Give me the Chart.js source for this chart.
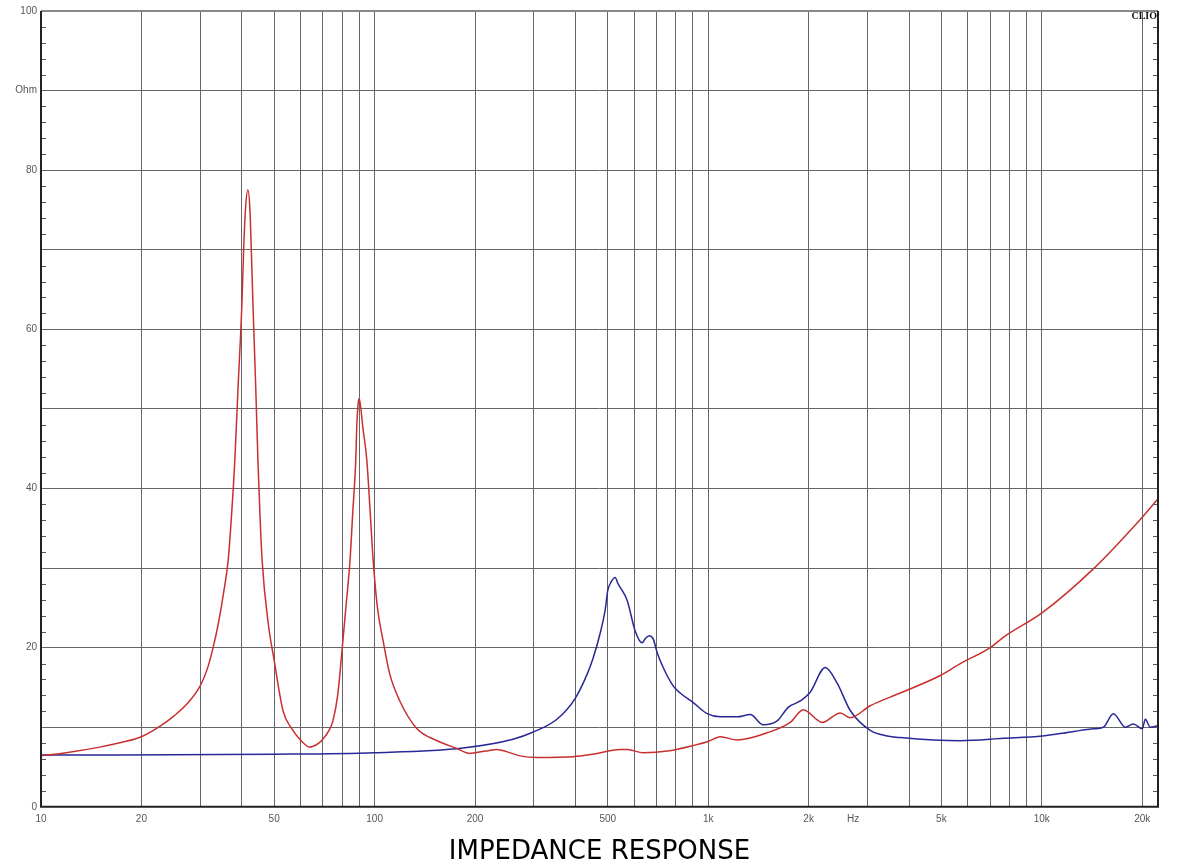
<!DOCTYPE html>
<html>
<head>
<meta charset="utf-8">
<script src="https://cdn.jsdelivr.net/npm/chart.js@4.4.1/dist/chart.umd.min.js"></script>
<style>
  html, body { margin: 0; padding: 0; background: #fff; }
  #wrap { width: 1178px; height: 868px; }
</style>
</head>
<body>
<div id="wrap"><canvas id="impChart" width="1178" height="868"></canvas></div>
<script>
// red curve
const redFreq = [10, 11.9, 15, 17.5, 20, 22.7, 25, 27.5, 30, 31.5, 32.8, 34, 35.3, 36.4, 37.3, 38.1, 39, 40, 40.5, 41, 41.7, 42.3, 42.7, 43.2, 44, 44.7, 45.3, 46, 48, 50, 53.2, 56.5, 60.2, 62, 63.6, 65.5, 68, 70, 73, 75, 77.5, 80, 82, 84.4, 86, 87.8, 88.4, 89.2, 89.9, 90.8, 92.2, 94.8, 97, 99, 102, 106, 111, 119, 134, 154, 177, 193, 200, 215, 233, 250, 273, 307, 394, 450, 545, 572, 639, 754, 902, 1000, 1087, 1222, 1503, 1762, 1927, 2197, 2488, 2666, 3060, 3765, 4963, 5697, 7009, 7665, 10035, 14270, 20010, 22300];
const redOhm  = [6.4, 6.8, 7.5, 8.1, 8.8, 10.1, 11.4, 13.0, 15.2, 17.3, 20, 23, 27, 31, 37, 43.5, 53, 63, 70, 75, 77.5, 75, 70, 63, 53, 43.5, 37, 31, 23, 18.4, 12, 9.8, 8.3, 7.8, 7.5, 7.6, 8.0, 8.5, 9.6, 10.8, 14, 20, 25, 31, 37, 43.5, 47.7, 50.5, 51.3, 50.3, 47.7, 43.5, 37, 31, 25, 20.9, 16.7, 13.3, 9.8, 8.3, 7.3, 6.7, 6.8, 7.0, 7.2, 6.9, 6.4, 6.2, 6.3, 6.6, 7.2, 7.2, 6.8, 7.0, 7.7, 8.2, 8.8, 8.4, 9.3, 10.6, 12.2, 10.6, 11.8, 11.2, 12.7, 14.3, 16.5, 18, 20, 21.3, 24.4, 29.9, 36.4, 38.7];

// blue curve
const blueFreq = [10, 50, 100, 184, 260, 299, 352, 399, 434, 452, 475, 491, 500, 508, 526, 537, 552, 572, 604, 634, 647, 666, 684, 703, 733, 785, 824, 902, 993, 1087, 1140, 1222, 1337, 1462, 1610, 1737, 1887, 2022, 2243, 2437, 2666, 3060, 3441, 3765, 5697, 7665, 10035, 11364, 14270, 15290, 16385, 17800, 18810, 20010, 20430, 21150, 22300];
const blueOhm  = [6.5, 6.6, 6.8, 7.4, 8.5, 9.4, 11, 13.6, 16.7, 18.7, 21.9, 24.7, 27.2, 28, 28.8, 28, 27.2, 25.9, 22.1, 20.6, 21.1, 21.5, 21.1, 19.4, 17.5, 15.2, 14.3, 13.1, 11.7, 11.3, 11.3, 11.3, 11.6, 10.3, 10.8, 12.5, 13.3, 14.4, 17.5, 15.5, 12.1, 9.6, 8.9, 8.7, 8.3, 8.6, 8.9, 9.2, 9.8, 10, 11.7, 10, 10.4, 9.8, 11, 10, 10.2];

// axis ticks
const xTickValues = [10, 20, 50, 100, 200, 500, 1000, 2000, 2720, 5000, 10000, 20000];
const xTickLabels = ['10', '20', '50', '100', '200', '500', '1k', '2k', 'Hz', '5k', '10k', '20k'];
const xMin = 10, xMax = 22300;
const yMin = 0, yMax = 100;

// vertical grid: 1..9 in every decade
const xGrid = [];
[10, 100, 1000, 10000].forEach(d => {
  for (let m = 1; m <= 9; m++) if (d * m <= 20000) xGrid.push(d * m);
});
const allXTicks = Array.from(new Set(xGrid.concat(xTickValues))).sort((a, b) => a - b);

function toPoints(fs, vs) {
  return fs.map((f, i) => ({ x: f, y: vs[i] }));
}

const gridCol = '#666';
const labelFont = { family: 'Liberation Sans, Arial, sans-serif', size: 10 };

const framePlugin = {
  id: 'frame',
  afterDraw(chart) {
    const { ctx, chartArea: a, scales } = chart;
    const y = scales.y;
    ctx.save();
    // small inward ticks every 2 ohm on both sides
    ctx.strokeStyle = '#555';
    ctx.lineWidth = 1;
    ctx.beginPath();
    for (let v = 2; v < 100; v += 2) {
      if (v % 10 === 0) continue;
      const py = Math.round(y.getPixelForValue(v)) + 0.5;
      ctx.moveTo(a.left, py); ctx.lineTo(a.left + 5, py);
      ctx.moveTo(a.right - 5, py); ctx.lineTo(a.right, py);
    }
    ctx.stroke();
    // frame
    ctx.lineWidth = 2;
    ctx.strokeStyle = '#888';
    ctx.beginPath();
    ctx.moveTo(a.left, a.top); ctx.lineTo(a.right, a.top);
    ctx.stroke();
    ctx.strokeStyle = '#222';
    ctx.beginPath();
    ctx.moveTo(a.left, a.top); ctx.lineTo(a.left, a.bottom); ctx.lineTo(a.right, a.bottom); ctx.lineTo(a.right, a.top);
    ctx.stroke();
    // CLIO mark
    ctx.fillStyle = '#111';
    ctx.font = 'bold 10px "Liberation Serif", serif';
    ctx.textAlign = 'right';
    ctx.textBaseline = 'middle';
    ctx.fillText('CLIO', a.right - 1, a.top + 5);
    ctx.restore();
  }
};

const ctx = document.getElementById('impChart');
let myChart = new Chart(ctx, {
  type: 'line',
  data: {
    datasets: [{
      label: 'red',
      data: toPoints(redFreq, redOhm),
      borderColor: 'rgb(200, 48, 48)',
      borderWidth: 1.5,
      pointRadius: 0,
      cubicInterpolationMode: 'monotone'
    }, {
      label: 'blue',
      data: toPoints(blueFreq, blueOhm),
      borderColor: 'rgb(40, 40, 150)',
      borderWidth: 1.5,
      pointRadius: 0,
      cubicInterpolationMode: 'monotone'
    }]
  },
  options: {
    responsive: false,
    animation: false,
    layout: { padding: { left: 0, right: 20, top: 11, bottom: 0 } },
    plugins: {
      legend: { display: false },
      tooltip: { enabled: false },
      title: {
        display: true,
        position: 'bottom',
        fullSize: false,
        text: 'IMPEDANCE RESPONSE',
        color: '#000',
        font: { family: 'DejaVu Sans, Verdana, sans-serif', size: 26, weight: 'normal' },
        padding: { top: 4, bottom: 0 }
      }
    },
    scales: {
      x: {
        type: 'logarithmic',
        min: xMin,
        max: xMax,
        afterBuildTicks: (scale) => { scale.ticks = allXTicks.map(v => ({ value: v })); },
        afterFit: (scale) => { scale.height = 26; },
        ticks: {
          autoSkip: false,
          maxRotation: 0,
          padding: 6,
          color: '#555',
          font: labelFont,
          callback: function(value) {
            const i = xTickValues.indexOf(value);
            return i >= 0 ? xTickLabels[i] : '';
          }
        },
        grid: {
          drawTicks: false,
          color: (c) => (c.tick && xGrid.includes(c.tick.value)) ? gridCol : 'rgba(0,0,0,0)',
          lineWidth: 1
        },
        border: { display: false }
      },
      y: {
        type: 'linear',
        min: yMin,
        max: yMax,
        afterFit: (scale) => { scale.width = 41; },
        ticks: {
          stepSize: 10,
          padding: 4,
          color: '#555',
          font: labelFont,
          callback: function(v) {
            if (v % 20 === 0) return String(v);
            if (v === 90) return 'Ohm';
            return '';
          }
        },
        grid: { drawTicks: false, color: gridCol, lineWidth: 1 },
        border: { display: false }
      }
    }
  },
  plugins: [framePlugin]
});
</script>
</body>
</html>
